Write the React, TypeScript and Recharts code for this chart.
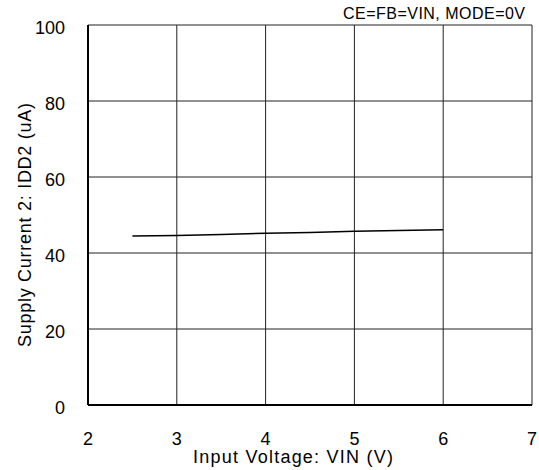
import React from "react";
import {
  LineChart,
  Line,
  XAxis,
  YAxis,
  CartesianGrid,
  Label,
} from "recharts";

const vin = [2.5, 3, 3.5, 4, 4.5, 5, 5.5, 6];
const idd2 = [44.5, 44.6, 44.9, 45.2, 45.4, 45.7, 45.9, 46.1];
const xTicks = [2, 3, 4, 5, 6, 7];
const yTicks = [0, 20, 40, 60, 80, 100];
const note = "CE=FB=VIN, MODE=0V";

const data = vin.map((v, i) => ({ vin: v, idd2: idd2[i] }));

const FONT = "'Liberation Sans', Arial, sans-serif";

// y tick labels sit a little below their gridline in the original
const YTick = ({ x, y, payload }: any) => (
  <text
    x={x}
    y={y + 3}
    textAnchor="end"
    dominantBaseline="central"
    fontSize={18}
    fontFamily={FONT}
    fill="#000"
  >
    {payload.value}
  </text>
);

export default function App() {
  return (
    <div style={{ position: "absolute", left: 0, top: 0, width: 539, height: 470, background: "#fff" }}>
      <LineChart
        width={539}
        height={470}
        data={data}
        margin={{ top: 25, right: 7, left: 0, bottom: 0 }}
      >
        <CartesianGrid stroke="#222" strokeWidth={1} />
        <XAxis
          dataKey="vin"
          type="number"
          domain={[2, 7]}
          ticks={xTicks}
          height={65}
          tickSize={0}
          tickMargin={27}
          axisLine={{ stroke: "#000", strokeWidth: 2 }}
          tick={{ fill: "#000", fontSize: 18, fontFamily: FONT }}
          interval={0}
        >
          <Label
            content={({ viewBox }: any) => (
              <text
                x={viewBox.x + viewBox.width / 2 - 17}
                y={463}
                textAnchor="middle"
                fontSize={18}
                fontFamily={FONT}
                fill="#000"
                textLength={200}
                lengthAdjust="spacing"
              >
                Input Voltage: VIN (V)
              </text>
            )}
          />
        </XAxis>
        <XAxis
          xAxisId="top"
          orientation="top"
          type="number"
          domain={[2, 7]}
          height={0}
          tick={false}
          tickLine={false}
          axisLine={{ stroke: "#000", strokeWidth: 2 }}
        />
        <YAxis
          type="number"
          domain={[0, 100]}
          ticks={yTicks}
          width={88}
          tickSize={0}
          tickMargin={23}
          axisLine={{ stroke: "#000", strokeWidth: 2 }}
          tick={<YTick />}
          interval={0}
        >
          <Label
            content={({ viewBox }: any) => {
              const cx = 25;
              const cy = viewBox.y + viewBox.height / 2 + 10;
              return (
                <text
                  x={cx}
                  y={cy}
                  transform={`rotate(-90, ${cx}, ${cy})`}
                  textAnchor="middle"
                  dominantBaseline="central"
                  fontSize={18}
                  fontFamily={FONT}
                  fill="#000"
                  textLength={244}
                  lengthAdjust="spacing"
                >
                  Supply Current 2: IDD2 (uA)
                </text>
              );
            }}
          />
        </YAxis>
        <YAxis
          yAxisId="right"
          orientation="right"
          type="number"
          domain={[0, 100]}
          width={0}
          tick={false}
          tickLine={false}
          axisLine={{ stroke: "#000", strokeWidth: 2 }}
        />
        <Line
          type="linear"
          dataKey="idd2"
          stroke="#000"
          strokeWidth={1.5}
          dot={false}
          isAnimationActive={false}
        />
      </LineChart>
      <svg
        width={539}
        height={470}
        style={{ position: "absolute", left: 0, top: 0, pointerEvents: "none" }}
      >
        <text
          x={525}
          y={19}
          textAnchor="end"
          fontSize={16}
          fontFamily={FONT}
          fill="#000"
          textLength={182}
          lengthAdjust="spacing"
        >
          {note}
        </text>
      </svg>
    </div>
  );
}
